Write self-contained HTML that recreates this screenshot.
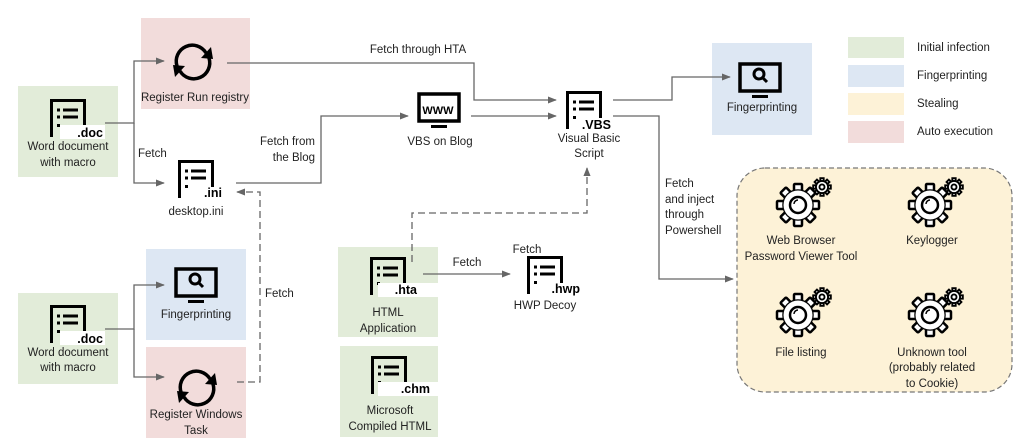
<!DOCTYPE html>
<html><head><meta charset="utf-8"><style>
html,body{margin:0;padding:0;background:#fff;}
svg{display:block;font-family:"Liberation Sans",sans-serif;}
text{font-size:11.5px;fill:#222;}
.c{text-anchor:middle;}
.ext{font-weight:bold;font-size:12.5px;text-anchor:end;fill:#000;}
</style></head><body>
<svg width="1024" height="447" viewBox="0 0 1024 447" xmlns="http://www.w3.org/2000/svg">
<defs>
<marker id="ar" viewBox="0 0 10 10" refX="9" refY="5" markerWidth="9" markerHeight="9" markerUnits="userSpaceOnUse" orient="auto"><path d="M0,1 L10,5 L0,9 z" fill="#666"/></marker>
<symbol id="doc" viewBox="0 0 36 38" width="36" height="38" overflow="visible">
<path d="M1.5,38 V1.5 H34.5 V27" fill="none" stroke="#000" stroke-width="3"/>
<rect x="7" y="9.5" width="3" height="3"/><rect x="7" y="16.5" width="3" height="3"/><rect x="7" y="25" width="3" height="3"/>
<rect x="13" y="9.5" width="15" height="3"/><rect x="13" y="16.5" width="15" height="3"/>
</symbol>
<symbol id="mon" viewBox="0 0 44 38" width="44" height="38">
<rect x="2" y="2" width="40" height="27" fill="none" stroke="#000" stroke-width="3.5"/>
<rect x="14" y="33" width="16" height="3"/>
</symbol>
<symbol id="ref" viewBox="-22 -22 44 44" width="44" height="44" overflow="visible">
<path d="M-16,4 A16,16 0 0 1 13,-9" fill="none" stroke="#000" stroke-width="3.5"/>
<path d="M16,-4 A16,16 0 0 1 -13,9" fill="none" stroke="#000" stroke-width="3.5"/>
<path d="M8,-4 L20,-3 L18,-15 z" fill="#000"/>
<path d="M-8,4 L-20,3 L-18,15 z" fill="#000"/>
</symbol>
<symbol id="gear" viewBox="-30 -30 60 60" width="60" height="60" overflow="visible">
<g stroke="#000" stroke-width="2.5" fill="#fff">
<g id="teeth">
<rect x="-4" y="-21" width="8" height="9" rx="1"/>
<rect x="-4" y="-21" width="8" height="9" rx="1" transform="rotate(45)"/>
<rect x="-4" y="-21" width="8" height="9" rx="1" transform="rotate(90)"/>
<rect x="-4" y="-21" width="8" height="9" rx="1" transform="rotate(135)"/>
<rect x="-4" y="-21" width="8" height="9" rx="1" transform="rotate(180)"/>
<rect x="-4" y="-21" width="8" height="9" rx="1" transform="rotate(225)"/>
<rect x="-4" y="-21" width="8" height="9" rx="1" transform="rotate(270)"/>
<rect x="-4" y="-21" width="8" height="9" rx="1" transform="rotate(315)"/>
</g>
<circle r="14.5"/>
<circle r="14.5" fill="#fff" stroke="none"/>
</g>
<circle r="14.5" fill="none" stroke="#000" stroke-width="2.5" stroke-dasharray="6.5 4.9" stroke-dashoffset="3" opacity="0"/>
<circle r="8" fill="none" stroke="#000" stroke-width="2.5"/>
<path d="M-4,-1 A4,4 0 0 1 0,-5" fill="none" stroke="#000" stroke-width="1.5"/>
<g transform="translate(24,-18) scale(0.42)" stroke="#000" stroke-width="4.5" fill="#fff">
<rect x="-4" y="-21" width="8" height="9"/>
<rect x="-4" y="-21" width="8" height="9" transform="rotate(45)"/>
<rect x="-4" y="-21" width="8" height="9" transform="rotate(90)"/>
<rect x="-4" y="-21" width="8" height="9" transform="rotate(135)"/>
<rect x="-4" y="-21" width="8" height="9" transform="rotate(180)"/>
<rect x="-4" y="-21" width="8" height="9" transform="rotate(225)"/>
<rect x="-4" y="-21" width="8" height="9" transform="rotate(270)"/>
<rect x="-4" y="-21" width="8" height="9" transform="rotate(315)"/>
<circle r="14.5"/>
<circle r="6" fill="none"/>
</g>
</symbol>
</defs>

<rect x="141" y="18" width="109" height="91" fill="#f2dcdb"/>
<rect x="18" y="86" width="100" height="91" fill="#e2ecd9"/>
<rect x="18" y="293" width="100" height="91" fill="#e2ecd9"/>
<rect x="146" y="249" width="100" height="91" fill="#dde7f3"/>
<rect x="146" y="347" width="100" height="91" fill="#f2dcdb"/>
<rect x="338" y="247" width="100" height="90" fill="#e2ecd9"/>
<rect x="340" y="346" width="98" height="91" fill="#e2ecd9"/>
<rect x="712" y="43" width="100" height="92" fill="#dde7f3"/>
<rect x="737" y="168" width="275" height="224" rx="28" fill="#fdf2d7" stroke="#777" stroke-width="1.2" stroke-dasharray="5 3"/>

<rect x="848" y="37" width="56" height="21" fill="#e2ecd9"/>
<rect x="848" y="65" width="56" height="22" fill="#dde7f3"/>
<rect x="848" y="93" width="56" height="22" fill="#fdf2d7"/>
<rect x="848" y="121" width="56" height="22" fill="#f2dcdb"/>
<text x="917" y="51">Initial infection</text>
<text x="917" y="79">Fingerprinting</text>
<text x="917" y="107">Stealing</text>
<text x="917" y="135">Auto execution</text>

<g fill="none" stroke="#666" stroke-width="1.3">
<path d="M105,123 H134 V61 H164" marker-end="url(#ar)"/>
<path d="M134,123 V183 H164" marker-end="url(#ar)"/>
<path d="M227,63 H474 V100 H556" marker-end="url(#ar)"/>
<path d="M236,183 H321 V116 H408" marker-end="url(#ar)"/>
<path d="M471,116 H556" marker-end="url(#ar)"/>
<path d="M613,100 H672 V77 H730" marker-end="url(#ar)"/>
<path d="M613,116 H659 V279 H733" marker-end="url(#ar)"/>
<path d="M423,274 H510" marker-end="url(#ar)"/>
<path d="M105,329 H134 V285 H164" marker-end="url(#ar)"/>
<path d="M134,329 V377 H164" marker-end="url(#ar)"/>
<g stroke-dasharray="7 4">
<path d="M412,262 V213 H587 V168" marker-end="url(#ar)"/>
<path d="M237,382 H260 V192 H237" marker-end="url(#ar)"/>
</g>
</g>

<use href="#ref" x="171" y="40"/>
<use href="#ref" x="175" y="366"/>
<use href="#doc" x="50" y="99"/>
<use href="#doc" x="50" y="305"/>
<use href="#doc" x="178" y="160"/>
<use href="#doc" x="566" y="91"/>
<use href="#doc" x="370" y="257"/>
<use href="#doc" x="371" y="356"/>
<use href="#doc" x="527" y="256"/>
<use href="#mon" x="417" y="92"/>
<use href="#mon" x="174" y="267"/>
<use href="#mon" x="738" y="62"/>
<text x="438" y="114" class="c" style="font-weight:bold;font-size:11px;fill:#000">WWW</text>
<g fill="none" stroke="#000" stroke-width="3"><circle cx="195" cy="279" r="5"/><path d="M199,283 L203,287"/><circle cx="759" cy="74" r="5"/><path d="M763,78 L767,82"/></g>
<use href="#gear" x="768" y="175"/>
<use href="#gear" x="900" y="175"/>
<use href="#gear" x="768" y="285"/>
<use href="#gear" x="900" y="285"/>

<rect x="60" y="125" width="45" height="14" fill="#fff"/><text x="103" y="137" class="ext">.doc</text>
<rect x="60" y="331" width="45" height="14" fill="#fff"/><text x="103" y="343" class="ext">.doc</text>
<text x="222" y="197" class="ext">.ini</text>
<text x="611" y="129" class="ext">.VBS</text>
<rect x="378" y="283" width="60" height="14" fill="#fff"/><text x="417" y="294" class="ext">.hta</text>
<rect x="378" y="382" width="60" height="14" fill="#fff"/><text x="430" y="393" class="ext">.chm</text>
<text x="580" y="293" class="ext">.hwp</text>

<text x="195" y="101" class="c">Register Run registry</text>
<text x="68" y="150" class="c">Word document</text>
<text x="68" y="166" class="c">with macro</text>
<text x="68" y="356" class="c">Word document</text>
<text x="68" y="371" class="c">with macro</text>
<text x="138" y="157">Fetch</text>
<text x="196" y="215" class="c">desktop.ini</text>
<text x="315" y="145" style="text-anchor:end">Fetch from</text>
<text x="315" y="161" style="text-anchor:end">the Blog</text>
<text x="418" y="53" class="c">Fetch through HTA</text>
<text x="440" y="145" class="c">VBS on Blog</text>
<text x="589" y="142" class="c">Visual Basic</text>
<text x="589" y="157" class="c">Script</text>
<text x="762" y="111" class="c">Fingerprinting</text>
<text x="665" y="187">Fetch</text>
<text x="665" y="203">and inject</text>
<text x="665" y="218">through</text>
<text x="665" y="234">Powershell</text>
<text x="265" y="297">Fetch</text>
<text x="196" y="318" class="c">Fingerprinting</text>
<text x="196" y="418" class="c">Register Windows</text>
<text x="196" y="434" class="c">Task</text>
<text x="467" y="266" class="c">Fetch</text>
<text x="527" y="253" class="c">Fetch</text>
<text x="545" y="309" class="c">HWP Decoy</text>
<text x="388" y="316" class="c">HTML</text>
<text x="388" y="332" class="c">Application</text>
<text x="390" y="414" class="c">Microsoft</text>
<text x="390" y="430" class="c">Compiled HTML</text>
<text x="801" y="244" class="c">Web Browser</text>
<text x="801" y="260" class="c">Password Viewer Tool</text>
<text x="932" y="244" class="c">Keylogger</text>
<text x="801" y="356" class="c">File listing</text>
<text x="932" y="356" class="c">Unknown tool</text>
<text x="932" y="371" class="c">(probably related</text>
<text x="932" y="387" class="c">to Cookie)</text>
</svg>
</body></html>
